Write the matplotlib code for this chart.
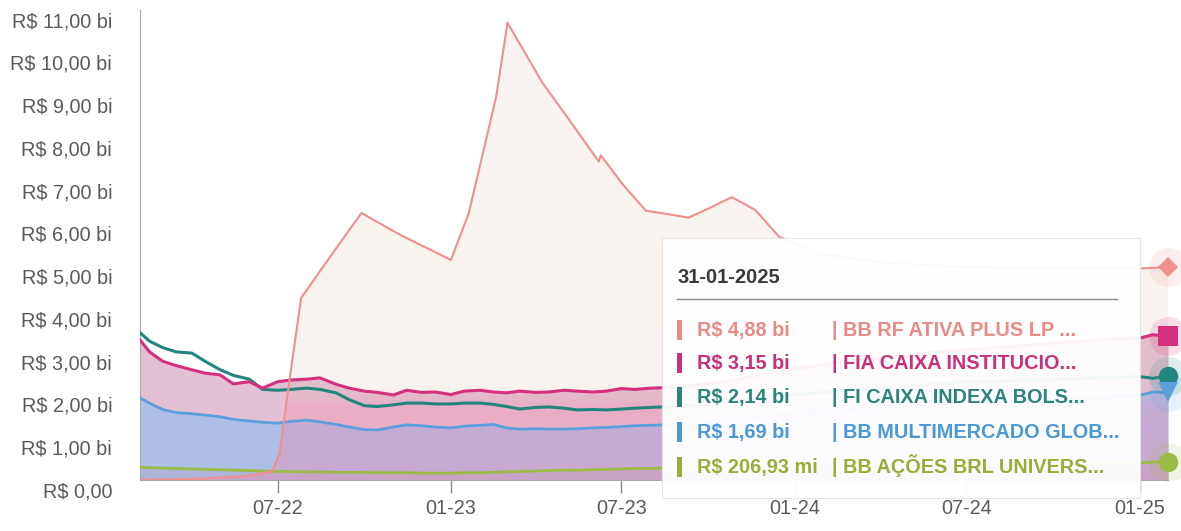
import numpy as np
import pandas as pd
import matplotlib
matplotlib.use("Agg")
import matplotlib.pyplot as plt
import matplotlib.dates as mdates
import matplotlib.transforms as mtransforms
from matplotlib.patches import Rectangle

plt.rcParams['font.family'] = ['Liberation Sans', 'DejaVu Sans']

# --- data (R$ bilhoes) ---
rf_dates = ['2022-02-05', '2022-04-10', '2022-06-01', '2022-06-25', '2022-07-03',
            '2022-07-14', '2022-07-26', '2022-08-25', '2022-09-28', '2022-11-07',
            '2023-01-01', '2023-01-20', '2023-02-18', '2023-03-02', '2023-03-06',
            '2023-04-08', '2023-04-29', '2023-06-07', '2023-06-09', '2023-07-03',
            '2023-07-27', '2023-08-20', '2023-09-10', '2023-10-01', '2023-10-26',
            '2023-11-20', '2023-12-15', '2024-01-26', '2024-03-30', '2024-06-12',
            '2024-09-26', '2025-01-01', '2025-01-31']
rf_vals = [0.0, 0.03, 0.10, 0.20, 0.6,
           2.4, 4.26, 5.2, 6.25, 5.75,
           5.15, 6.25, 8.97, 10.7, 10.55,
           9.3, 8.66, 7.45, 7.6, 6.9,
           6.3, 6.22, 6.14, 6.35, 6.62,
           6.32, 5.7, 5.3, 5.1, 5.0,
           4.95, 4.95, 4.98]

grid_dates = ['2022-02-05', '2022-02-15', '2022-03-01', '2022-03-15', '2022-04-01',
              '2022-04-15', '2022-05-01', '2022-05-15', '2022-06-01', '2022-06-15',
              '2022-07-01', '2022-07-15', '2022-08-01', '2022-08-15', '2022-09-01',
              '2022-09-15', '2022-10-01', '2022-10-15', '2022-11-01', '2022-11-15',
              '2022-12-01', '2022-12-15', '2023-01-01', '2023-01-15', '2023-02-01',
              '2023-02-15', '2023-03-01', '2023-03-15', '2023-04-01', '2023-04-15',
              '2023-05-01', '2023-05-15', '2023-06-01', '2023-06-15', '2023-07-01',
              '2023-07-15', '2023-08-01', '2023-08-15', '2023-09-01', '2023-10-01',
              '2023-11-01', '2023-12-01', '2024-01-01', '2024-02-01', '2024-03-01',
              '2024-04-01', '2024-05-01', '2024-06-01', '2024-07-01', '2024-08-01',
              '2024-09-01', '2024-10-01', '2024-11-01', '2024-12-01', '2025-01-01',
              '2025-01-15', '2025-01-31']
fia_vals = [3.28, 3.00, 2.78, 2.68, 2.58, 2.50, 2.46, 2.25, 2.30, 2.15,
            2.30, 2.34, 2.36, 2.39, 2.24, 2.15, 2.08, 2.05, 1.99, 2.10,
            2.05, 2.06, 2.00, 2.08, 2.10, 2.06, 2.04, 2.08, 2.05, 2.06,
            2.10, 2.08, 2.06, 2.08, 2.14, 2.12, 2.15, 2.16, 2.18, 2.25,
            2.35, 2.50, 2.60, 2.70, 2.80, 2.85, 2.90, 3.00, 3.05, 3.10,
            3.15, 3.20, 3.25, 3.30, 3.32, 3.40, 3.36]
indexa_vals = [3.45, 3.25, 3.10, 3.00, 2.97, 2.78, 2.58, 2.45, 2.36, 2.12,
               2.10, 2.12, 2.15, 2.12, 2.04, 1.88, 1.74, 1.72, 1.76, 1.80,
               1.80, 1.78, 1.78, 1.80, 1.80, 1.77, 1.72, 1.66, 1.70, 1.71,
               1.68, 1.64, 1.65, 1.64, 1.66, 1.68, 1.70, 1.71, 1.72, 1.78,
               1.85, 1.95, 2.00, 2.05, 2.10, 2.15, 2.20, 2.25, 2.30, 2.30,
               2.35, 2.35, 2.38, 2.40, 2.42, 2.38, 2.44]
multi_vals = [1.92, 1.80, 1.65, 1.58, 1.55, 1.52, 1.48, 1.42, 1.38, 1.35,
              1.33, 1.37, 1.40, 1.36, 1.30, 1.24, 1.18, 1.17, 1.24, 1.29,
              1.27, 1.24, 1.22, 1.26, 1.28, 1.30, 1.22, 1.19, 1.20, 1.19,
              1.19, 1.20, 1.22, 1.23, 1.25, 1.27, 1.28, 1.29, 1.30, 1.35,
              1.42, 1.50, 1.55, 1.60, 1.65, 1.70, 1.75, 1.80, 1.82, 1.85,
              1.88, 1.90, 1.92, 1.95, 1.98, 2.06, 2.05]
acoes_vals = [0.30, 0.29, 0.28, 0.27, 0.26, 0.25, 0.24, 0.23, 0.22, 0.21,
              0.20, 0.20, 0.19, 0.19, 0.18, 0.18, 0.18, 0.17, 0.17, 0.17,
              0.16, 0.16, 0.16, 0.17, 0.17, 0.18, 0.19, 0.20, 0.21, 0.22,
              0.23, 0.23, 0.24, 0.25, 0.26, 0.27, 0.27, 0.28, 0.28, 0.29,
              0.30, 0.30, 0.31, 0.32, 0.33, 0.33, 0.34, 0.35, 0.35, 0.36,
              0.37, 0.37, 0.38, 0.39, 0.40, 0.42, 0.42]

tooltip_date = '31-01-2025'
tooltip_values = ['R$ 4,88 bi', 'R$ 3,15 bi', 'R$ 2,14 bi', 'R$ 1,69 bi', 'R$ 206,93 mi']
tooltip_names = ['| BB RF ATIVA PLUS LP ...', '| FIA CAIXA INSTITUCIO...',
                 '| FI CAIXA INDEXA BOLS...', '| BB MULTIMERCADO GLOB...',
                 '| BB AÇÕES BRL UNIVERS...']

c_rf = '#ef8f8f'
c_fia = '#d5307e'
c_idx = '#23867c'
c_multi = '#5b9fdc'
c_acoes = '#9bbb45'
text_colors = ['#ea8a85', '#c8307a', '#2a857a', '#4b98d6', '#9aac3a']

W, H = 1181, 531
fig = plt.figure(figsize=(W / 100, H / 100), dpi=100)
ax = fig.add_axes([140 / W, (H - 480) / H, (1168 - 140) / W, 470 / H])

xr = mdates.date2num(pd.to_datetime(rf_dates))
xg = mdates.date2num(pd.to_datetime(grid_dates))
rf = np.array(rf_vals)
fia = np.array(fia_vals)
idx = np.array(indexa_vals)
multi = np.array(multi_vals)
acoes = np.array(acoes_vals)


def gradient_area(x, y, stops, ytop, z):
    # stops: list of (y value, (r, g, b, a))
    poly = ax.fill_between(x, y, 0, facecolor='none', edgecolor='none')
    ys = np.linspace(0, ytop, 400)
    grad = np.zeros((400, 1, 4))
    sy = [s[0] for s in stops]
    for k in range(4):
        grad[:, 0, k] = np.interp(ys, sy, [s[1][k] for s in stops])
    im = ax.imshow(grad, aspect='auto', origin='lower',
                   extent=[x[0], x[-1], 0, ytop], zorder=z, interpolation='bilinear')
    im.set_clip_path(poly.get_paths()[0], transform=ax.transData)


# areas
ax.fill_between(xg, fia, 0, color='#e3c0d4', lw=0, zorder=1)
ax.fill_between(xg, multi, 0, color='#96bef0', alpha=0.7, lw=0, zorder=1.5)
ax.fill_between(xg, acoes, 0, color='#b0a0b0', alpha=0.3, lw=0, zorder=1.6)
rf_stops = [(0.0, (0.98, 0.52, 0.66, 0.36)),
            (1.7, (0.98, 0.52, 0.66, 0.30)),
            (2.2, (0.85, 0.72, 0.63, 0.16)),
            (11.0, (0.85, 0.72, 0.63, 0.14))]
gradient_area(xr, rf, rf_stops, 11, 2)

# lines
ax.plot(xg, acoes, color=c_acoes, lw=2, zorder=3)
ax.plot(xg, multi, color=c_multi, lw=2, zorder=3)
ax.plot(xg, idx, color=c_idx, lw=2.2, zorder=3)
ax.plot(xg, fia, color=c_fia, lw=2.2, zorder=3.1)
ax.plot(xr, rf, color=c_rf, lw=1.5, zorder=3.2)

# end markers with halo
ends = [(xr[-1], rf[-1], c_rf, 'D', 10), (xg[-1], fia[-1], c_fia, 's', 14),
        (xg[-1], idx[-1], c_idx, 'o', 14), (xg[-1], multi[-1], c_multi, 'v', 15),
        (xg[-1], acoes[-1], c_acoes, 'o', 14)]
for ex, ey, col, mk, ms in ends:
    ax.plot(ex, ey, marker='o', ms=28, color=col, alpha=0.15, mew=0,
            clip_on=False, zorder=4)
    ax.plot(ex, ey, marker=mk, ms=ms, color=col, mew=0, clip_on=False, zorder=5)

ax.set_xlim(xg[0], xg[-1])
ax.set_ylim(0, 11)

ax.set_yticks(range(0, 12))
ax.set_yticklabels(['R$ 0,00'] + [f'R$ {v},00 bi' for v in range(1, 12)])
ax.tick_params(axis='y', length=0, pad=20, labelsize=14.3, labelcolor='#5a5a5a')
off = mtransforms.ScaledTranslation(0, -7 / 72, fig.dpi_scale_trans)
for lbl in ax.get_yticklabels():
    lbl.set_transform(lbl.get_transform() + off)

ax.xaxis.set_major_locator(mdates.MonthLocator(bymonth=[1, 7]))
ax.xaxis.set_major_formatter(mdates.DateFormatter('%m-%y'))
ax.tick_params(axis='x', length=9, width=1, color='#888888', pad=5,
               labelsize=14.3, labelcolor='#5a5a5a')

for s in ['top', 'right']:
    ax.spines[s].set_visible(False)
ax.spines['left'].set_color('#aaaaaa')
ax.spines['bottom'].set_color('#aaaaaa')

# tooltip
box = Rectangle((662 / W, 1 - 498 / H), (1140 - 662) / W, (498 - 238) / H,
                transform=fig.transFigure, facecolor='white', edgecolor='#e6e6e6',
                lw=0.8, alpha=0.95, zorder=10)
fig.add_artist(box)
fig.text(678 / W, 1 - 283 / H, tooltip_date, fontsize=14.5, fontweight='bold',
         color='#3a3a3a', va='baseline', ha='left', zorder=11)
fig.add_artist(plt.Line2D([677 / W, 1117 / W], [1 - 299 / H, 1 - 299 / H],
                          transform=fig.transFigure, color='#888888', lw=1, zorder=11))
row_y = [330, 363, 397, 432, 467]
for ry, val, name, col in zip(row_y, tooltip_values, tooltip_names, text_colors):
    fig.add_artist(Rectangle((677 / W, 1 - (ry + 10) / H), 5 / W, 20 / H,
                             transform=fig.transFigure, facecolor=col,
                             edgecolor='none', zorder=11))
    fig.text(697 / W, 1 - (ry + 6) / H, val, fontsize=14.3, fontweight='bold',
             color=col, va='baseline', ha='left', zorder=11)
    fig.text(832 / W, 1 - (ry + 6) / H, name, fontsize=14.3, fontweight='bold',
             color=col, va='baseline', ha='left', zorder=11)

fig.savefig('out.png', dpi=100)
